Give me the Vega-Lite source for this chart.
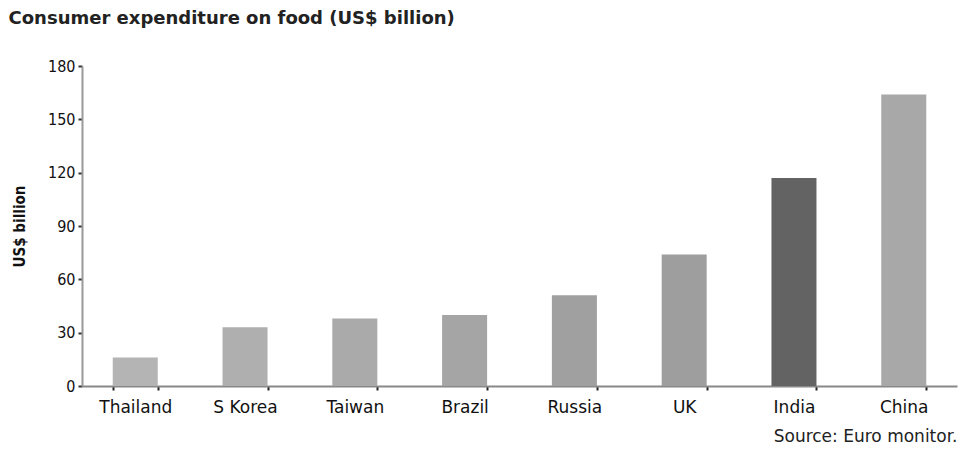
{
  "$schema": "https://vega.github.io/schema/vega-lite/v6.json",
  "width": 875,
  "height": 320,
  "autosize": "none",
  "padding": {"left": 82, "top": 66, "right": 4, "bottom": 78},
  "background": "white",
  "title": {
    "text": "Consumer expenditure on food (US$ billion)",
    "anchor": "start",
    "dx": -4,
    "offset": 30,
    "font": "DejaVu Sans",
    "fontSize": 18,
    "fontWeight": "bold",
    "color": "#222222"
  },
  "data": {
    "values": [
      {"country": "Thailand", "value": 16, "shade": "a"},
      {"country": "S Korea", "value": 33, "shade": "b"},
      {"country": "Taiwan", "value": 38, "shade": "c"},
      {"country": "Brazil", "value": 40, "shade": "d"},
      {"country": "Russia", "value": 51, "shade": "e"},
      {"country": "UK", "value": 74, "shade": "f"},
      {"country": "India", "value": 117, "shade": "g"},
      {"country": "China", "value": 164, "shade": "h"}
    ]
  },
  "mark": {"type": "bar"},
  "encoding": {
    "x": {
      "field": "country",
      "type": "nominal",
      "sort": null,
      "scale": {"paddingInner": 0.59, "paddingOuter": 0.28},
      "axis": {
        "title": "Source: Euro monitor.",
        "titleAnchor": "end",
        "titleFont": "DejaVu Sans",
        "titleFontSize": 17,
        "titleFontWeight": "normal",
        "titleColor": "#222222",
        "titlePadding": 13,
        "labelAngle": 0,
        "labelFont": "DejaVu Sans",
        "labelFontSize": 17,
        "labelColor": "#111111",
        "labelPadding": 9,
        "tickBand": "extent",
        "ticks": true,
        "tickSize": 4,
        "tickColor": "#222222",
        "tickWidth": 2,
        "domainColor": "#888888",
        "domainWidth": 2
      }
    },
    "y": {
      "field": "value",
      "type": "quantitative",
      "scale": {"domain": [0, 180], "nice": false},
      "axis": {
        "title": "US$ billion",
        "titleFont": "DejaVu Sans Condensed",
        "titleFontSize": 15,
        "titleFontWeight": "bold",
        "titleColor": "#111111",
        "titlePadding": 20,
        "values": [0, 30, 60, 90, 120, 150, 180],
        "labelFont": "DejaVu Sans Condensed",
        "labelFontSize": 16,
        "labelColor": "#111111",
        "labelPadding": 3,
        "grid": false,
        "tickSize": 4,
        "tickWidth": 2,
        "tickColor": "#333333",
        "domainColor": "#999999",
        "domainWidth": 2
      }
    },
    "color": {
      "field": "shade",
      "type": "nominal",
      "legend": null,
      "scale": {
        "domain": ["a", "b", "c", "d", "e", "f", "g", "h"],
        "range": ["#b4b4b4", "#afafaf", "#aaaaaa", "#a5a5a5", "#a0a0a0", "#9e9e9e", "#636363", "#a8a8a8"]
      }
    }
  },
  "config": {"view": {"stroke": null}}
}
